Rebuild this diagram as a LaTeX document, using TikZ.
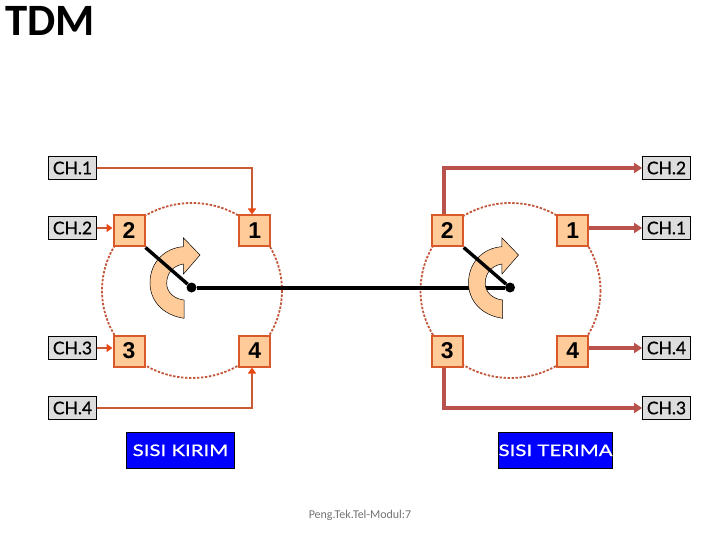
\documentclass[tikz,border=0pt]{standalone}
\usepackage{fontspec}
\setmainfont{Liberation Sans}
\newfontfamily\titlefont{Carlito}
\newfontfamily\chfont[FakeBold=0.8]{Lato}
\newfontfamily\sidefont[FakeStretch=1.28,FakeBold=0.8]{Lato}
\usetikzlibrary{arrows.meta,calc}
\definecolor{boxline}{HTML}{D9592B}
\definecolor{boxfill}{HTML}{FFCC99}
\definecolor{inline}{HTML}{C95A34}
\definecolor{inhead}{HTML}{E8480F}
\definecolor{outline}{HTML}{B8524C}
\definecolor{ringcol}{HTML}{C2553A}
\definecolor{chgray}{HTML}{DDDDDD}
\tikzset{
  x=1bp,y=-1bp,
  chbox/.style={draw=black,line width=.7bp,fill=chgray,minimum width=48bp,minimum height=23.5bp,inner sep=0pt,font=\chfont\fontsize{17.5}{17.5}\selectfont},
  numbox/.style={draw=boxline,line width=2bp,fill=boxfill,minimum width=31bp,minimum height=31bp,inner sep=0pt,font=\bfseries\fontsize{23}{23}\selectfont},
  sidebox/.style={draw=black,line width=.7bp,fill=blue,text=white,minimum height=36bp,inner sep=0pt,font=\sidefont\fontsize{16}{16}\selectfont},
  ring/.style={draw=ringcol,line width=1.8bp,dash pattern=on 2.4bp off 1.6bp},
  inwire/.style={draw=inline,line width=2bp,-{Triangle[length=6bp,width=8bp,color=inhead,fill=inhead]}},
  outwire/.style={draw=outline,line width=4bp,-{Triangle[length=8bp,width=10bp,color=outline,fill=outline]}},
  hub/.style={circle,fill=black,inner sep=0pt,minimum size=10bp},
  hubwire/.style={draw=black,line width=4bp},
  blackwire/.style={draw=black,line width=3.4bp},
  turn/.style={draw=black,line width=.5bp,fill=boxfill},
}
\begin{document}
\begin{tikzpicture}
\useasboundingbox (0,0) rectangle (720,540);
\fill[white] (0,0) rectangle (720,540);
\node[anchor=base west,inner sep=0pt,font=\titlefont\bfseries\fontsize{45}{45}\selectfont] (title) at (5,36) {TDM};
% rings
\draw[ring] (192,290.5) ellipse [x radius=90,y radius=87.5];
\draw[ring] (510.5,290.5) ellipse [x radius=90,y radius=87.5];
% hubs
\node[hub] (hl) at (191.5,287.5) {};
\node[hub] (hr) at (510,287.5) {};
\draw[hubwire] (hl) -- (hr);
% turning arrows
\draw[turn] (184,318.3) .. controls (162,315) and (150,300) .. (150,283) .. controls (150,262) and (165,248) .. (183.3,246.7) -- (183.3,237.7) -- (200,255) -- (183.5,274) -- (183.3,264) .. controls (172,266) and (166.7,274) .. (166.7,283.5) .. controls (166.7,292) and (174,299) .. (184,300) -- cycle;
\begin{scope}[xshift=318.5bp]
\draw[turn] (184,318.3) .. controls (162,315) and (150,300) .. (150,283) .. controls (150,262) and (165,248) .. (183.3,246.7) -- (183.3,237.7) -- (200,255) -- (183.5,274) -- (183.3,264) .. controls (172,266) and (166.7,274) .. (166.7,283.5) .. controls (166.7,292) and (174,299) .. (184,300) -- cycle;
\end{scope}
% number boxes
\node[numbox] (l2) at (129,231) {2};
\node[numbox] (l1) at (254.8,231) {1};
\node[numbox] (l3) at (129,351) {3};
\node[numbox] (l4) at (254.8,351) {4};
\node[numbox] (r2) at (447.2,231) {2};
\node[numbox] (r1) at (572.8,231) {1};
\node[numbox] (r3) at (447.2,351) {3};
\node[numbox] (r4) at (572.8,351) {4};
\draw[blackwire] (l2.south east) -- (hl);
\draw[blackwire] (r2.south east) -- (hr);
% channels
\node[chbox] (a1) at (72.5,168) {CH.1};
\node[chbox] (a2) at (72.5,228) {CH.2};
\node[chbox] (a3) at (72.5,348) {CH.3};
\node[chbox] (a4) at (72.5,408) {CH.4};
\node[chbox] (b2) at (666.5,168) {CH.2};
\node[chbox] (b1) at (666.5,228) {CH.1};
\node[chbox] (b4) at (666.5,348) {CH.4};
\node[chbox] (b3) at (666.5,408) {CH.3};
% wires
\draw[inwire] (a1.east) -| ([xshift=-2.8bp]l1.north);
\draw[inwire] (a2.east) -- (a2.east -| l2.west);
\draw[inwire] (a3.east) -- (a3.east -| l3.west);
\draw[inwire] (a4.east) -| ([xshift=-2.8bp]l4.south);
\draw[outwire] ([xshift=-3.2bp]r2.north) |- (b2.west);
\draw[outwire] (r1.east |- b1.west) -- (b1.west);
\draw[outwire] (r4.east |- b4.west) -- (b4.west);
\draw[outwire] ([xshift=-3.2bp]r3.south) |- (b3.west);
% side labels
\node[sidebox,minimum width=108.5bp] (sk) at (180.4,450.3) {SISI KIRIM};
\node[sidebox,minimum width=114.5bp] (st) at (555.5,450.3) {SISI TERIMA};
\node[text=black!55,font=\titlefont\fontsize{12}{12}\selectfont,inner sep=0pt] (foot) at (360,515) {Peng.Tek.Tel-Modul:7};
\end{tikzpicture}
\end{document}
